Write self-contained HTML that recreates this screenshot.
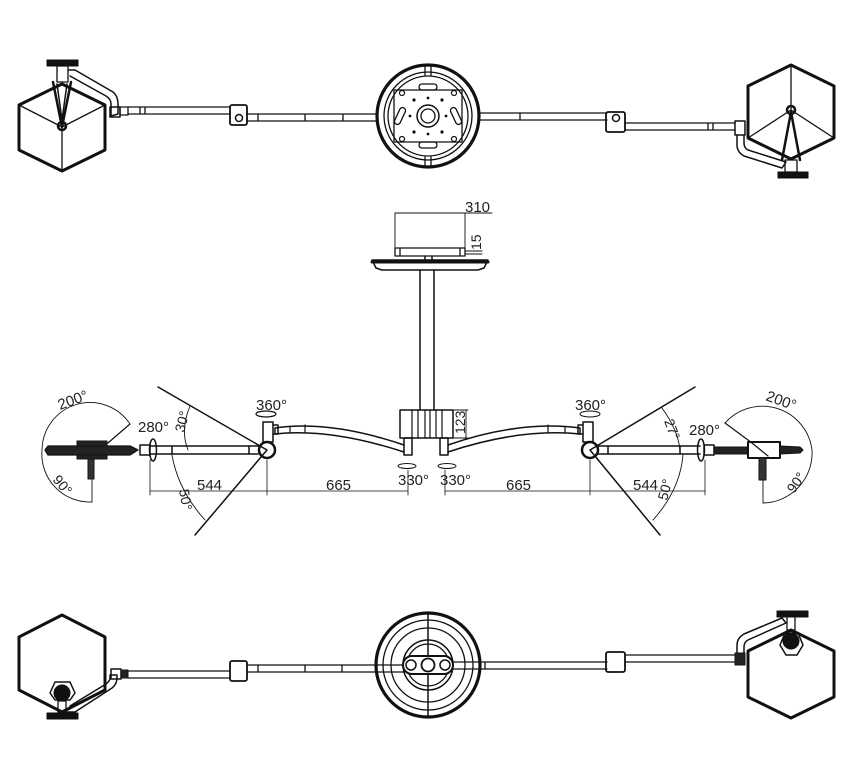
<!DOCTYPE html>
<html><head><meta charset="utf-8"><style>
html,body{margin:0;padding:0;background:#fff}
svg{display:block}
text{font-family:"Liberation Sans",sans-serif;fill:#222}
</style></head><body>
<svg width="851" height="766" viewBox="0 0 851 766" xmlns="http://www.w3.org/2000/svg">
<g fill="none" stroke="#111" stroke-linejoin="round" stroke-linecap="round">

<!-- ===== TOP VIEW ===== -->
<path d="M62,84 L105,105 L105,150 L62,171 L19,150 L19,105 Z" stroke-width="3"/>
<path d="M62,127 L105,105 M62,127 L19,105 M62,127 L62,171" stroke-width="1.3"/>
<path d="M53,82 L62,127 L71,82" stroke-width="2.5"/>
<path d="M57,84 L62,120 L67,84" stroke-width="1.5"/>
<circle cx="62" cy="126" r="4" stroke-width="2.5"/>
<rect x="47" y="60" width="31" height="6" fill="#111" stroke-width="1"/>
<rect x="57" y="66" width="11" height="16" stroke-width="1.3"/>
<path d="M68,70 L75,70 L113,92 Q118,96 118,104 L118,114 L111,116 L111,104 Q111,99 106,96 L70,76" stroke-width="1.5"/>
<rect x="110" y="107" width="10" height="10" stroke-width="1.5"/>
<rect x="120" y="107" width="8" height="8" stroke-width="1.3"/>
<path d="M128,107 L230,107 M128,114 L230,114 M140,107 L140,114 M145,107 L145,114" stroke-width="1.3"/>
<rect x="230" y="105" width="17" height="20" rx="2" stroke-width="1.8"/>
<circle cx="239" cy="118" r="3.5" stroke-width="1.5"/>
<path d="M247,114 L376,114 M247,121 L376,121 M258,114 L258,121 M305,114 L305,121 M343,114 L343,121" stroke-width="1.3"/>
<circle cx="428" cy="116" r="51" stroke-width="3.2"/>
<circle cx="428" cy="116" r="44" stroke-width="1.3"/>
<circle cx="428" cy="116" r="40" stroke-width="1.3"/>
<path d="M394,90 L462,90 L462,142 L394,142 Z" stroke-width="1.3"/>
<circle cx="428" cy="116" r="11" stroke-width="1.5"/>
<circle cx="428" cy="116" r="7" stroke-width="1.3"/>
<rect x="419" y="84" width="18" height="6" rx="3" stroke-width="1.3"/>
<rect x="419" y="142" width="18" height="6" rx="3" stroke-width="1.3"/>
<rect x="397" y="107" width="6" height="18" rx="3" transform="rotate(25 400 116)" stroke-width="1.3"/>
<rect x="453" y="107" width="6" height="18" rx="3" transform="rotate(-25 456 116)" stroke-width="1.3"/>
<path d="M425,65 L425,75 M431,65 L431,75 M425,157 L425,167 M431,157 L431,167" stroke-width="1.3"/>
<g fill="#111" stroke="none">
<circle cx="414" cy="100" r="1.6"/><circle cx="442" cy="100" r="1.6"/><circle cx="414" cy="132" r="1.6"/><circle cx="442" cy="132" r="1.6"/>
<circle cx="428" cy="98" r="1.4"/><circle cx="428" cy="134" r="1.4"/><circle cx="410" cy="116" r="1.4"/><circle cx="446" cy="116" r="1.4"/>
</g>
<circle cx="402" cy="93" r="2.5" stroke-width="1.2"/><circle cx="454" cy="93" r="2.5" stroke-width="1.2"/>
<circle cx="402" cy="139" r="2.5" stroke-width="1.2"/><circle cx="454" cy="139" r="2.5" stroke-width="1.2"/>
<path d="M480,113 L607,113 M480,120 L607,120 M520,113 L520,120" stroke-width="1.3"/>
<rect x="606" y="112" width="19" height="20" rx="2" stroke-width="1.8"/>
<circle cx="616" cy="118" r="3.5" stroke-width="1.5"/>
<path d="M625,123 L735,123 M625,130 L735,130 M708,123 L708,130 M713,123 L713,130" stroke-width="1.3"/>
<rect x="735" y="121" width="10" height="14" stroke-width="1.5"/>
<path d="M737,135 L737,145 Q737,152 744,156 L782,168 L786,162 L748,150 Q744,148 744,143 L744,135" stroke-width="1.5"/>
<path d="M791,65 L834,86 L834,138 L791,159 L748,138 L748,86 Z" stroke-width="3"/>
<path d="M791,110 L834,138 M791,110 L748,138 M791,110 L791,65" stroke-width="1.3"/>
<path d="M782,160 L791,112 L800,160" stroke-width="2.5"/>
<circle cx="791" cy="110" r="4" stroke-width="2.5"/>
<rect x="785" y="160" width="12" height="12" stroke-width="1.3"/>
<rect x="778" y="172" width="30" height="6" fill="#111" stroke-width="1"/>

<!-- ===== MIDDLE VIEW ===== -->
<path d="M395,213 L395,253 M465,213 L465,253 M395,213 L492,213" stroke-width="0.9"/>
<path d="M465,251 L482,251 M465,254 L482,254" stroke-width="0.9"/>
<path d="M395,248 L465,248 L465,256 L395,256 Z M400,248 L400,256 M460,248 L460,256" stroke-width="1.3"/>
<path d="M372,260 L488,260 L484,268 L478,270 L382,270 L376,268 Z" stroke-width="1.5"/>
<path d="M372,262 L488,262" stroke="#111" stroke-width="3"/>
<path d="M420,270 L420,410 M434,270 L434,410 M425,256 L425,260 M432,256 L432,260" stroke-width="1.5"/>
<rect x="400" y="410" width="53" height="28" stroke-width="1.5"/>
<path d="M412,410 L412,438 M418,410 L418,438 M425,410 L425,438 M430,410 L430,438 M436,410 L436,438 M442,410 L442,438" stroke-width="1.2"/>
<path d="M453,410 L468,410 M453,438 L468,438 M466,410 L466,438" stroke-width="0.9"/>
<rect x="404" y="438" width="8" height="17" stroke-width="1.5"/>
<rect x="440" y="438" width="8" height="17" stroke-width="1.5"/>
<path d="M404,445 Q330,420 275,428 L275,434 Q330,428 404,452" stroke-width="1.5"/>
<path d="M448,445 Q520,420 580,428 L580,434 Q520,428 448,452" stroke-width="1.5"/>
<path d="M290,427 L290,433 M305,425 L305,432 M565,427 L565,433 M548,425 L548,432" stroke-width="1.2"/>
<rect x="263" y="422" width="10" height="20" stroke-width="1.5"/>
<path d="M273,425 L278,425 L278,434 L273,434" stroke-width="1.5"/>
<ellipse cx="266" cy="414" rx="10" ry="3" stroke-width="1.2"/>
<circle cx="267" cy="450" r="8" stroke-width="2.5"/>
<path d="M150,446 L258,446 M150,454 L258,454 M172,446 L172,454 M249,446 L249,454" stroke-width="1.5"/>
<ellipse cx="153" cy="450" rx="3.5" ry="11" stroke-width="1.5"/>
<rect x="140" y="445" width="10" height="10" stroke-width="1.5"/>
<path d="M48,446 L130,446 L138,450 L130,455 L48,455 L45,450 Z" fill="#222" stroke-width="1.3"/>
<rect x="77" y="441" width="30" height="5" fill="#222" stroke-width="1"/>
<rect x="77" y="455" width="30" height="4" fill="#222" stroke-width="1"/>
<rect x="88" y="459" width="6" height="20" fill="#333" stroke-width="1"/>
<rect x="583" y="422" width="10" height="20" stroke-width="1.5"/>
<path d="M583,425 L578,425 L578,434 L583,434" stroke-width="1.5"/>
<circle cx="590" cy="450" r="8" stroke-width="2.5"/>
<path d="M598,446 L700,446 M598,454 L700,454 M608,446 L608,454 M680,446 L680,454" stroke-width="1.5"/>
<ellipse cx="701" cy="450" rx="3.5" ry="11" stroke-width="1.5"/>
<rect x="704" y="445" width="10" height="10" stroke-width="1.5"/>
<path d="M714,447 L748,447 L748,454 L714,454 Z" fill="#222" stroke-width="1"/>
<rect x="748" y="442" width="32" height="16" stroke-width="2"/>
<path d="M752,443 L768,456" stroke-width="1.2"/>
<path d="M780,446 L800,447 L803,450 L800,453 L780,454 Z" fill="#222" stroke-width="1"/>
<rect x="759" y="458" width="7" height="22" fill="#333" stroke-width="1"/>
<path d="M158,387 L267,450 L195,535" stroke-width="1.5"/>
<path d="M695,387 L590,450 L660,535" stroke-width="1.5"/>
<path d="M190,406 Q180,430 188,450" stroke-width="0.9"/>
<path d="M172,455 Q178,490 205,520" stroke-width="0.9"/>
<path d="M662,408 Q678,430 680,450" stroke-width="0.9"/>
<path d="M683,455 Q680,490 653,520" stroke-width="0.9"/>
<path d="M130,424 A48,48 0 0 0 42,450 A48,48 0 0 0 92,502" stroke-width="0.9"/>
<path d="M108,443 L130,424" stroke-width="1.2"/>
<path d="M92,480 L92,502" stroke-width="0.9"/>
<path d="M725,423 A50,50 0 0 1 812,450 A50,50 0 0 1 763,503" stroke-width="0.9"/>
<path d="M725,423 L752,443" stroke-width="1.2"/>
<path d="M763,480 L763,503" stroke-width="0.9"/>
<ellipse cx="407" cy="466" rx="9" ry="2.5" stroke-width="1"/>
<ellipse cx="447" cy="466" rx="9" ry="2.5" stroke-width="1"/>
<ellipse cx="590" cy="414" rx="10" ry="3" stroke-width="1"/>
<path d="M150,460 L150,495 M267,460 L267,495 M408,470 L408,495 M445,470 L445,495 M590,460 L590,495 M705,460 L705,495" stroke-width="0.8"/>
<path d="M150,491 L408,491 M445,491 L705,491" stroke-width="0.8"/>

<!-- ===== BOTTOM VIEW ===== -->
<path d="M62,615 L105,637 L105,690 L62,712 L19,690 L19,637 Z" stroke-width="3"/>
<path d="M50,693 L55,682 L70,682 L75,693 L70,700 L55,700 Z" stroke-width="1.5"/>
<circle cx="62" cy="693" r="8" fill="#111"/>
<rect x="58" y="701" width="8" height="11" stroke-width="1.3"/>
<rect x="47" y="713" width="31" height="6" fill="#111" stroke-width="1"/>
<path d="M67,712 L75,712 L112,688 Q117,684 117,678 L117,675 L110,675 L110,678 Q110,681 106,684 L70,706" stroke-width="1.5"/>
<rect x="111" y="669" width="10" height="10" stroke-width="1.5"/>
<rect x="121" y="670" width="7" height="8" fill="#222" stroke-width="1"/>
<path d="M128,671 L230,671 M128,678 L230,678" stroke-width="1.3"/>
<rect x="230" y="661" width="17" height="20" rx="2" stroke-width="1.8"/>
<path d="M247,665 L405,665 M247,672 L405,672 M258,665 L258,672 M305,665 L305,672 M342,665 L342,672" stroke-width="1.3"/>
<circle cx="428" cy="665" r="52" stroke-width="3.2"/>
<circle cx="428" cy="665" r="45" stroke-width="1.3"/>
<circle cx="428" cy="665" r="37" stroke-width="1.3"/>
<circle cx="428" cy="665" r="25" stroke-width="1.5"/>
<circle cx="428" cy="665" r="21" stroke-width="1.3"/>
<path d="M428,613 L428,717" stroke-width="1.5"/>
<rect x="403" y="656" width="50" height="18" rx="9" fill="#fff" stroke-width="2"/>
<circle cx="411" cy="665" r="5" fill="#fff" stroke-width="1.5"/>
<circle cx="428" cy="665" r="6.5" fill="#fff" stroke-width="1.8"/>
<circle cx="445" cy="665" r="5" fill="#fff" stroke-width="1.5"/>
<path d="M453,662 L607,662 M453,669 L607,669 M485,662 L485,669" stroke-width="1.3"/>
<rect x="606" y="652" width="19" height="20" rx="2" stroke-width="1.8"/>
<path d="M625,655 L735,655 M625,662 L735,662" stroke-width="1.3"/>
<rect x="735" y="653" width="10" height="12" fill="#222" stroke-width="1"/>
<path d="M737,653 L737,645 Q737,638 744,634 L782,618 L786,623 L748,640 Q744,642 744,647 L744,653" stroke-width="1.5"/>
<path d="M791,630 L834,651 L834,697 L791,718 L748,697 L748,651 Z" stroke-width="3"/>
<path d="M780,645 L785,633 L798,633 L803,645 L797,655 L786,655 Z" stroke-width="1.5"/>
<circle cx="791" cy="641" r="8" fill="#111"/>
<rect x="787" y="616" width="8" height="14" stroke-width="1.3"/>
<rect x="777" y="611" width="31" height="6" fill="#111" stroke-width="1"/>
</g>

<g font-size="15">
<text x="465" y="212">310</text>
<text x="481" y="250" transform="rotate(-90 481 250)" font-size="14">15</text>
<text x="465" y="434" transform="rotate(-90 465 434)" font-size="14">123</text>
<text x="60" y="410" transform="rotate(-20 60 410)">200°</text>
<text x="138" y="432">280°</text>
<text x="184" y="433" transform="rotate(-75 184 433)" font-size="14">30°</text>
<text x="256" y="410">360°</text>
<text x="52" y="480" transform="rotate(50 52 480)" font-size="14">90°</text>
<text x="179" y="490" transform="rotate(80 179 490)" font-size="14">50°</text>
<text x="197" y="490">544</text>
<text x="326" y="490">665</text>
<text x="398" y="485">330°</text>
<text x="440" y="485">330°</text>
<text x="506" y="490">665</text>
<text x="633" y="490">544</text>
<text x="575" y="410">360°</text>
<text x="689" y="435">280°</text>
<text x="765" y="400" transform="rotate(20 765 400)">200°</text>
<text x="664" y="421" transform="rotate(70 664 421)" font-size="14">27°</text>
<text x="667" y="501" transform="rotate(-75 667 501)" font-size="14">50°</text>
<text x="794" y="494" transform="rotate(-55 794 494)" font-size="14">90°</text>
</g>
</svg>
</body></html>
